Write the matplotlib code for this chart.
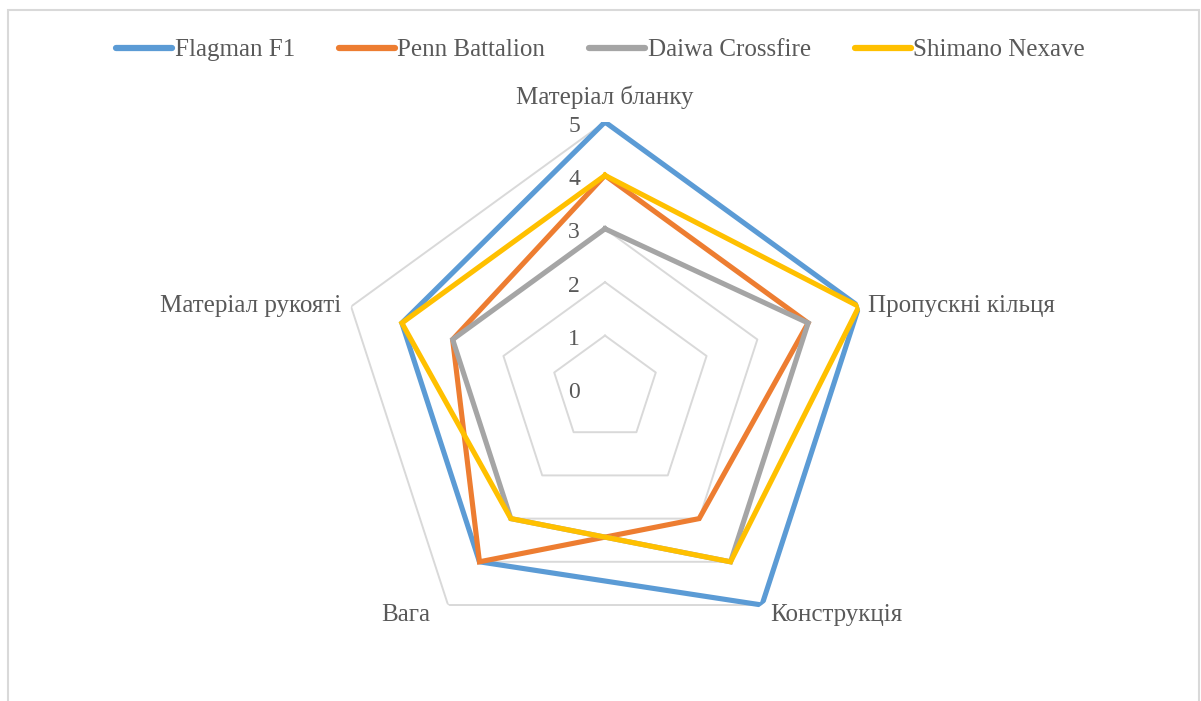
import numpy as np
import matplotlib
matplotlib.use('Agg')
import matplotlib.pyplot as plt
from matplotlib.patches import Rectangle
from matplotlib.transforms import offset_copy

# дані
categories = ['Матеріал бланку', 'Пропускні кільця', 'Конструкція', 'Вага', 'Матеріал рукояті']
series_names = ['Flagman F1', 'Penn Battalion', 'Daiwa Crossfire', 'Shimano Nexave']
flagman = [5, 5, 5, 4, 4]
penn = [4, 4, 3, 4, 3]
daiwa = [3, 4, 4, 3, 3]
shimano = [4, 5, 4, 3, 4]
ticks = [0, 1, 2, 3, 4, 5]

colors = ['#5B9BD5', '#ED7D31', '#A5A5A5', '#FFC000']
txt_color = '#595959'
grid_color = '#D9D9D9'

plt.rcParams['font.family'] = ['Liberation Serif', 'DejaVu Serif']

W, H = 1201, 701
fig = plt.figure(figsize=(W / 100, H / 100), dpi=100)

cx, cy, R = 605, 389, 267
ax = fig.add_axes([(cx - R) / W, (H - cy - R) / H, 2 * R / W, 2 * R / H], projection='polar')
ax.set_theta_offset(np.pi / 2)
ax.set_theta_direction(-1)
ax.set_ylim(0, 5)
ax.grid(False)
ax.set_xticks([])
ax.set_yticks([])
ax.spines['polar'].set_visible(False)
ax.patch.set_alpha(0)

n = len(categories)
angles = np.linspace(0, 2 * np.pi, n, endpoint=False)
closed = np.append(angles, angles[0])

# сітка-п'ятикутники
for t in ticks[1:]:
    ax.plot(closed, [t] * (n + 1), color=grid_color, lw=1.4, zorder=1)

# підписи шкали
for t in ticks:
    tr = offset_copy(ax.transData, fig=fig, x=-25, y=-4, units='dots')
    ax.text(0, t, str(t), transform=tr, ha='right', va='center',
            fontsize=17, color=txt_color)

# серії
for name, vals, c in zip(series_names, [flagman, penn, daiwa, shimano], colors):
    v = np.append(vals, vals[0])
    ax.plot(closed, v, color=c, lw=3.7, label=name, zorder=3,
            solid_joinstyle='miter')

# підписи категорій
label_pos = [(0, 13, 'center', 'bottom'),
             (9, 0, 'left', 'center'),
             (8, -10, 'left', 'center'),
             (-18, -10, 'right', 'center'),
             (-10, 0, 'right', 'center')]
for a, cat, (dx, dy, ha, va) in zip(angles, categories, label_pos):
    tr = offset_copy(ax.transData, fig=fig, x=dx, y=dy, units='dots')
    ax.text(a, 5, cat, transform=tr, ha=ha, va=va, fontsize=18, color=txt_color)

leg = fig.legend(loc='center', bbox_to_anchor=(0.5, 1 - 50 / H), ncol=4, frameon=False,
                 fontsize=18, handlelength=2.25, handletextpad=0.1, columnspacing=1.75)
for t in leg.get_texts():
    t.set_color(txt_color)
for h in leg.get_lines():
    h.set_linewidth(4.5)
    h.set_solid_capstyle('round')

fig.add_artist(Rectangle((8 / W, -0.05), (1199 - 8) / W, 1.05 - 10 / H,
                         transform=fig.transFigure, fill=False,
                         edgecolor=grid_color, lw=1.5))

fig.savefig('out.png', dpi=100)
